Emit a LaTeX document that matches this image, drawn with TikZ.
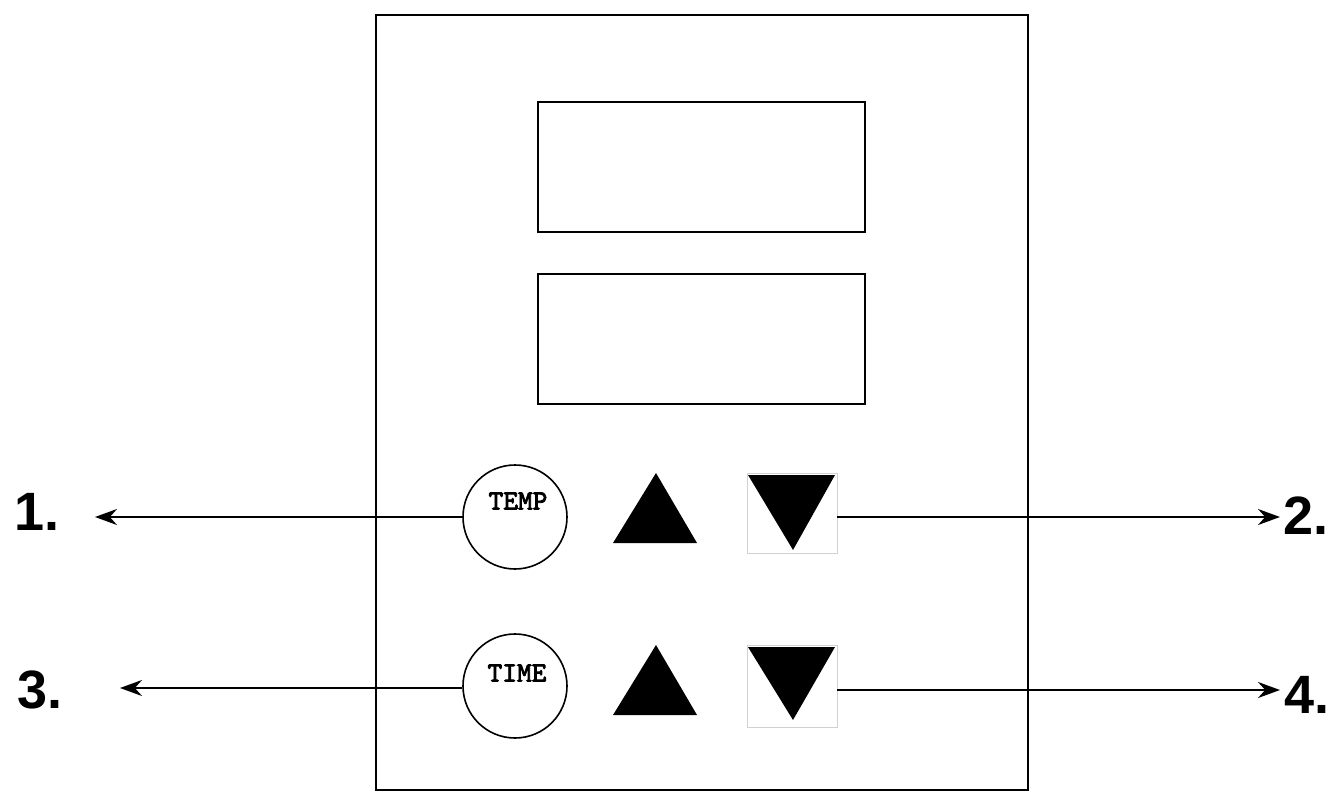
\documentclass[tikz,border=0pt]{standalone}
\usepackage{fontspec}
\setmainfont{Liberation Sans}
\newfontfamily\keyfont[Extension=.otf,FakeBold=3]{lmmono10-regular}
\usetikzlibrary{arrows.meta}
\begin{document}
\begin{tikzpicture}[x=1pt,y=-1pt,
	knob/.style={draw,circle,line width=1.6pt,minimum size=104pt,inner sep=0pt},
	keybox/.style={draw=black!18,line width=.8pt,minimum width=90pt,inner sep=0pt},
	keytext/.style={font=\keyfont\fontsize{28}{28}\selectfont},
	num/.style={font=\bfseries\fontsize{54}{54}\selectfont},
	lead/.style={line width=2pt,-{Stealth[length=22pt,width=16pt]}},
	wall/.style={line width=2pt}]
	\useasboundingbox (0,0) rectangle (1331,792);
	
	% housing and the two displays
	\draw [wall] (376,15) rectangle (1028,790);
	\draw [wall] (538,102) rectangle (865,232);
	\draw [wall] (538,274) rectangle (865,404);
	
	% temperature row
	\node [knob] (temp) at (515,517) {};
	\node [keytext] (templbl) at (518,501) {TEMP};
	\fill [line join=round] (613,543) -- (656,473) -- (697,543) -- cycle;
	\node [keybox,minimum height=80pt] (tempdn) at (792,513) {};
	\fill (748,475) -- (835,475) -- (793,550) -- cycle;
	
	% time row
	\node [knob] (time) at (515,686) {};
	\node [keytext] (timelbl) at (517,673) {TIME};
	\fill [line join=round] (613,715) -- (656,645) -- (697,715) -- cycle;
	\node [keybox,minimum height=82pt] (timedn) at (792,686) {};
	\fill (748,647) -- (835,647) -- (793,720) -- cycle;
	
	% callouts
	\node [num] (n1) at (37,512) {1.};
	\node [num] (n2) at (1306,516) {2.};
	\node [num] (n3) at (40,690) {3.};
	\node [num] (n4) at (1307,695) {4.};
	\coordinate (t1) at (95,517);
	\coordinate (t2) at (1280,517);
	\coordinate (t3) at (120,688);
	\coordinate (t4) at (1280,690);
	\draw [lead] (temp.west) -- (t1);
	\draw [lead] (tempdn.east |- t2) -- (t2);
	\draw [lead] (time.west |- t3) -- (t3);
	\draw [lead] (timedn.east |- t4) -- (t4);
\end{tikzpicture}
\end{document}
